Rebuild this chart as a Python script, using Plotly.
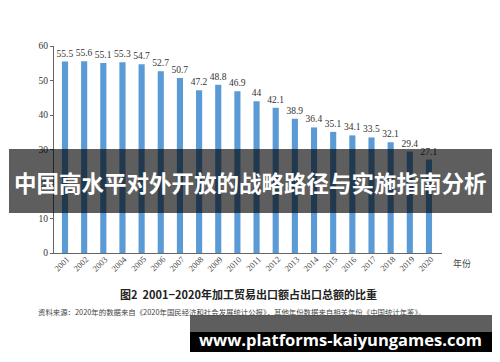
import plotly.graph_objects as go

years = [str(y) for y in range(2001, 2021)]
shares = [55.5, 55.6, 55.1, 55.3, 54.7, 52.7, 50.7, 47.2, 48.8, 46.9,
          44, 42.1, 38.9, 36.4, 35.1, 34.1, 33.5, 32.1, 29.4, 27.1]
labels = ["55.5", "55.6", "55.1", "55.3", "54.7", "52.7", "50.7", "47.2", "48.8", "46.9",
          "44", "42.1", "38.9", "36.4", "35.1", "34.1", "33.5", "32.1", "29.4", "27.1"]
y_ticks = [0, 10, 20, 30, 40, 50, 60]

overlay_title = "中国高水平对外开放的战略路径与实施指南分析"
caption = "图2  2001−2020年加工贸易出口额占出口总额的比重"
source = "资料来源：2020年的数据来自《2020年国民经济和社会发展统计公报》，其他年份数据来自相关年份《中国统计年鉴》。"
url_text = "www.platforms-kaiyungames.com"

# page body has an 8px default margin; design in screen coords and offset
OFF = 8
W, H = 500 - OFF, 362 - OFF
L, R, T, B = 54 - OFF, 442 - OFF, 46 - OFF, 253 - OFF
X0, X1 = -0.574, 19.68

def px(x):
    return (x - OFF - L) / (R - L)

def py(y):
    return (B - (y - OFF)) / (B - T)

fig = go.Figure()
fig.add_trace(go.Bar(
    x=years, y=shares, text=labels,
    textposition="outside", cliponaxis=False, constraintext="none",
    textfont=dict(family="Liberation Serif", size=9.5, color="#333"),
    marker=dict(color="#5b9bd5", line=dict(width=0)),
    width=0.32,
))

fig.update_layout(
    width=W, height=H,
    margin=dict(l=L, r=W - R, t=T, b=H - B, pad=0),
    paper_bgcolor="white", plot_bgcolor="white",
    showlegend=False,
    xaxis=dict(
        type="category",
        range=[X0, X1],
        showticklabels=False, showgrid=False, zeroline=False,
        showline=True, linecolor="#666", linewidth=1, ticks="",
    ),
    yaxis=dict(
        range=[0, 60], tickvals=y_ticks, showgrid=False, zeroline=False,
        showline=True, linecolor="#666", linewidth=1,
        ticks="outside", ticklen=3, tickcolor="#666",
        tickfont=dict(family="Liberation Serif", size=9.5, color="#333"),
    ),
)

shapes = [
    dict(type="rect", xref="paper", yref="paper",
         x0=px(9), x1=px(492), y0=py(213), y1=py(149),
         fillcolor="rgba(0,0,0,0.63)", line=dict(width=0), layer="above"),
    dict(type="rect", xref="paper", yref="paper",
         x0=px(190), x1=px(492), y0=py(332), y1=py(315),
         fillcolor="#5e5e5e", line=dict(width=0), layer="above"),
    dict(type="rect", xref="paper", yref="paper",
         x0=px(190), x1=px(492), y0=py(352), y1=py(332),
         fillcolor="#000000", line=dict(width=0), layer="above"),
]
fig.update_layout(shapes=shapes)

ann = []
for i, yr in enumerate(years):
    xf = (i - X0) / (X1 - X0)
    ann.append(dict(text=yr, xref="paper", yref="paper", x=xf, y=0,
                    xshift=-3.5, yshift=-10.5,
                    textangle=-45, xanchor="center", yanchor="middle", showarrow=False,
                    font=dict(family="Liberation Serif", size=8.5, color="#444")))

extra = [
    dict(text="年份", x=px(462), y=py(263), font=dict(family="Noto Sans CJK SC", size=9, color="#444")),
    dict(text="<b>" + caption + "</b>", x=px(248), y=py(294),
         font=dict(family="Noto Sans CJK SC", size=11, color="#222")),
    dict(text=source, x=px(232), y=py(311),
         font=dict(family="Noto Sans CJK SC", size=7.4, color="#444")),
    dict(text="<b>" + overlay_title + "</b>", x=px(250), y=py(182),
         font=dict(family="Noto Sans CJK SC", size=22.5, color="white")),
    dict(text="<b>" + url_text + "</b>", x=px(340), y=py(339),
         font=dict(family="Open Sans", size=16.5, color="white")),
]
for a in extra:
    a.update(xref="paper", yref="paper", showarrow=False, xanchor="center", yanchor="middle")
ann.extend(extra)
fig.update_layout(annotations=ann)

fig.write_html("out.html")
